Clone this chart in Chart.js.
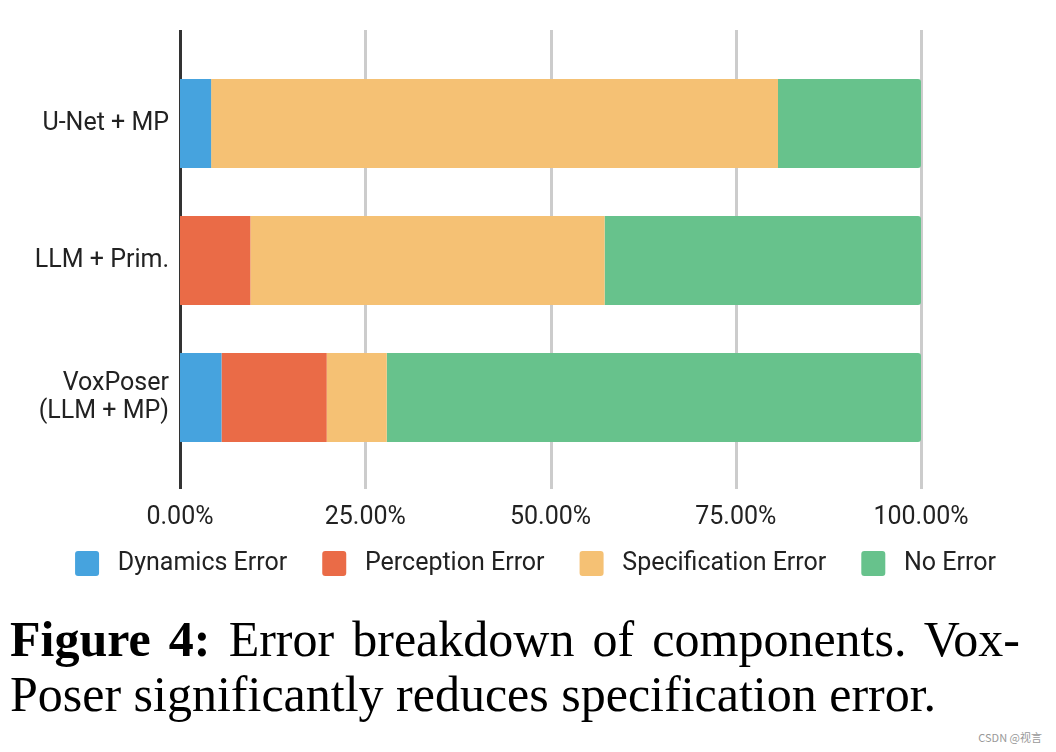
<!DOCTYPE html>
<html><head><meta charset="utf-8">
<script src="https://cdn.jsdelivr.net/npm/chart.js@4/dist/chart.umd.min.js"></script>
<style>
html,body{margin:0;padding:0;background:#fff;}
body{width:1056px;height:752px;position:relative;overflow:hidden;}
#wrap{position:absolute;left:0;top:0;width:1056px;height:606px;}
#cap{position:absolute;left:10px;top:612px;width:1010px;font-family:"Liberation Serif","Times New Roman",serif;font-size:50px;line-height:55px;color:#000;}
#cap .l1{text-align:justify;text-align-last:justify;}
#wm{position:absolute;right:14px;top:729px;font-family:"Noto Sans CJK SC",sans-serif;font-size:11px;color:#999;}
</style></head><body>
<div id="wrap"><canvas id="c"></canvas></div>
<div id="cap"><div class="l1"><b>Figure 4:</b> Error breakdown of components. Vox-</div><div>Poser significantly reduces specification error.</div></div>
<div id="wm">CSDN @视言</div>
<script>
const categories = [['U-Net + MP'], ['LLM + Prim.'], ['VoxPoser', '(LLM + MP)']];
const seriesNames = ['Dynamics Error', 'Perception Error', 'Specification Error', 'No Error'];
const dynamicsError = [4.2, 0, 5.6];
const perceptionError = [0, 9.5, 14.2];
const specificationError = [76.5, 47.8, 8.1];
const noError = [19.3, 42.7, 72.1];
const xTicks = [0, 25, 50, 75, 100];
const colors = ['#46a3de', '#ea6b47', '#f5c174', '#67c28c'];

const seriesValues = [dynamicsError, perceptionError, specificationError, noError];

const gridPlugin = {
  id: 'extGrid',
  afterLayout(chart) {
    const lg = chart.legend;
    if (lg) { lg.top -= 18; lg.bottom -= 18; }
  },
  beforeDatasetsDraw(chart) {
    const { ctx, chartArea, scales: { x } } = chart;
    ctx.save();
    xTicks.forEach(v => {
      const px = Math.round(x.getPixelForValue(v)) + 0.5;
      ctx.beginPath();
      ctx.lineWidth = 3;
      ctx.strokeStyle = v === 0 ? '#333333' : '#cccccc';
      ctx.moveTo(px, chartArea.top - 25);
      ctx.lineTo(px, chartArea.bottom + 23);
      ctx.stroke();
    });
    ctx.restore();
  }
};

const FONT = 'Roboto';
new Chart(document.getElementById('c'), {
  type: 'bar',
  data: {
    labels: categories,
    datasets: seriesNames.map((n, i) => ({
      label: n,
      data: seriesValues[i],
      backgroundColor: colors[i],
      borderWidth: 0,
      borderRadius: i === 3 ? 3 : 0,
      borderSkipped: 'start',
      barPercentage: 0.65,
      categoryPercentage: 1.0
    }))
  },
  options: {
    indexAxis: 'y',
    responsive: true,
    maintainAspectRatio: false,
    animation: false,
    layout: { padding: { left: 20, right: 5, top: 55, bottom: 2 } },
    scales: {
      x: {
        stacked: true, min: 0, max: 100,
        afterBuildTicks(s) { s.ticks = xTicks.map(v => ({ value: v })); },
        grid: { display: false, drawTicks: false },
        border: { display: false },
        ticks: { padding: 37, color: '#222', font: { family: FONT, size: 25 },
          callback: v => v.toFixed(2) + '%' },
        afterFit(s) { s.height = 68; }
      },
      y: {
        stacked: true,
        grid: { display: false, drawTicks: false },
        border: { display: false },
        ticks: { padding: 11, color: '#222', font: { family: FONT, size: 25, lineHeight: 1.12 } },
        afterFit(s) { s.width = 160; }
      },
      yRight: {
        axis: 'y', type: 'linear', position: 'right', display: true,
        grid: { display: false, drawTicks: false },
        border: { display: false },
        ticks: { display: false },
        afterFit(s) { s.width = 130; }
      }
    },
    plugins: {
      legend: {
        position: 'bottom',
        labels: {
          boxWidth: 24, boxHeight: 25, padding: 35, color: '#222',
          useBorderRadius: true, borderRadius: 3,
          font: { family: FONT, size: 25 },
          generateLabels(chart) {
            return Chart.defaults.plugins.legend.labels.generateLabels(chart).map(l => ({ ...l, text: ' ' + l.text }));
          }
        }
      },
      tooltip: { enabled: false }
    }
  },
  plugins: [gridPlugin]
});
</script>
</body></html>
